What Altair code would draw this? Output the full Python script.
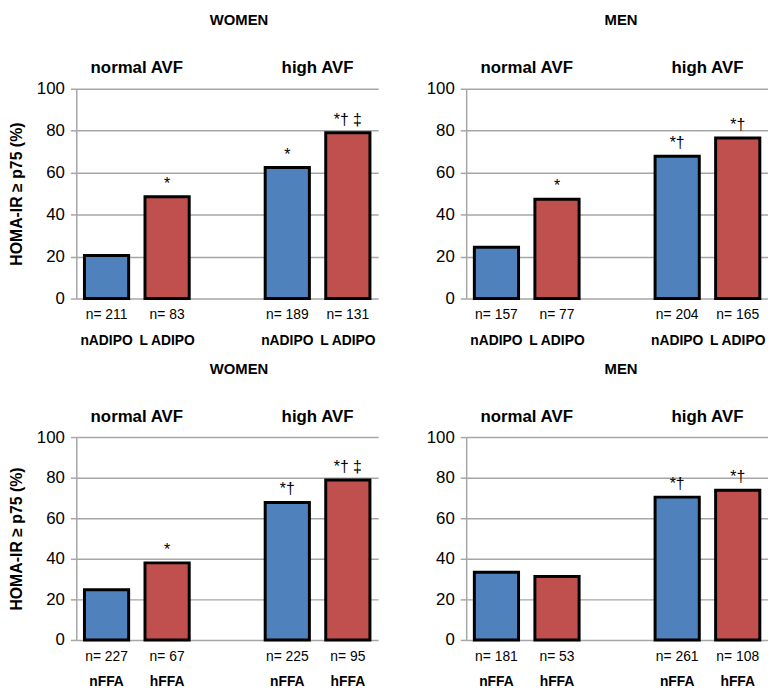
import altair as alt
import pandas as pd

FONT = "Liberation Sans"

groups = ["normal AVF", "high AVF"]
kinds = ["low", "high"]
bar_colors = ["#4F81BD", "#C0504D"]

adipo_labels = ["nADIPO", "L ADIPO", "nADIPO", "L ADIPO"]
ffa_labels = ["nFFA", "hFFA", "nFFA", "hFFA"]

w_adipo_values = [20.5, 48.5, 62.5, 79.0]
w_adipo_n = [211, 83, 189, 131]
w_adipo_annot = ["", "*", "*", "*† ‡"]

m_adipo_values = [24.5, 47.3, 67.8, 76.5]
m_adipo_n = [157, 77, 204, 165]
m_adipo_annot = ["", "*", "*†", "*†"]

w_ffa_values = [24.8, 38.0, 67.8, 78.9]
w_ffa_n = [227, 67, 225, 95]
w_ffa_annot = ["", "*", "*†", "*† ‡"]

m_ffa_values = [33.4, 31.3, 70.4, 73.8]
m_ffa_n = [181, 53, 261, 108]
m_ffa_annot = ["", "", "*†", "*†"]

y_ticks = [0, 20, 40, 60, 80, 100]
y_title = "HOMA-IR ≥ p75 (%)"

W = 305


def panel(title, labels, values, ns, annots, show_ytitle, H, title_dx):
    df = pd.DataFrame({
        "group": [g for g in groups for _ in kinds],
        "kind": kinds * len(groups),
        "label": labels,
        "value": values,
        "ntext": ["n= %d" % n for n in ns],
        "annot": annots,
    })
    x = alt.X("group:N", sort=groups,
              scale=alt.Scale(paddingInner=0.33, paddingOuter=0.0),
              axis=alt.Axis(orient="top", title=None, ticks=False, domain=False,
                            labelAngle=0, labelFontSize=17, labelFontWeight="bold",
                            labelColor="black", labelPadding=12, grid=False))
    xo = alt.XOffset("kind:N", sort=kinds,
                     scale=alt.Scale(paddingInner=0.27, paddingOuter=0.135))
    base = alt.Chart(df).encode(x=x, xOffset=xo)
    yaxis = alt.Axis(values=y_ticks, tickCount=6, labelOverlap=False,
                     grid=True, gridColor="#A6A6A6", gridWidth=1.5,
                     domainColor="#A6A6A6", domainWidth=1.5, tickColor="#A6A6A6",
                     tickWidth=1.5, tickSize=6, labelFontSize=17, labelColor="black",
                     labelPadding=6,
                     title=y_title if show_ytitle else None,
                     titleFontSize=16, titleFontWeight="bold", titleColor="black",
                     titlePadding=12)
    yenc = alt.Y("value:Q", scale=alt.Scale(domain=[0, 100], nice=False, zero=True), axis=yaxis)
    bars = base.mark_bar(stroke="black", strokeWidth=3).encode(
        y=yenc,
        color=alt.Color("kind:N", scale=alt.Scale(domain=kinds, range=bar_colors), legend=None),
    )
    ann = base.mark_text(baseline="bottom", dy=-5, fontSize=16, color="black").encode(
        y=yenc, text="annot:N")
    ntext = base.mark_text(fontSize=14, baseline="middle", color="black").encode(
        y=alt.value(H + 17), text="ntext:N")
    cat = base.mark_text(fontSize=14, fontWeight="bold", baseline="middle", color="black").encode(
        y=alt.value(H + 43), text="label:N")
    return alt.layer(bars, ann, ntext, cat).properties(
        width=W, height=H,
        title=alt.TitleParams(title, fontSize=15, fontWeight="bold", color="black",
                              offset=31, dx=title_dx, anchor="middle"))


H1, H2 = 212, 205
a = panel("WOMEN", adipo_labels, w_adipo_values, w_adipo_n, w_adipo_annot, True, H1, 12)
b = panel("MEN", adipo_labels, m_adipo_values, m_adipo_n, m_adipo_annot, False, H1, 4)
c = panel("WOMEN", ffa_labels, w_ffa_values, w_ffa_n, w_ffa_annot, True, H2, 12)
d = panel("MEN", ffa_labels, m_ffa_values, m_ffa_n, m_ffa_annot, False, H2, 4)

chart = alt.vconcat(
    alt.hconcat(a, b, spacing=48),
    alt.hconcat(c, d, spacing=48),
    spacing=14,
).properties(padding={"top": 2, "left": 0, "right": 0, "bottom": 0}).configure(
    font=FONT).configure_view(strokeWidth=0)

chart.save("out.html", embed_options={"renderer": "svg", "actions": False})
